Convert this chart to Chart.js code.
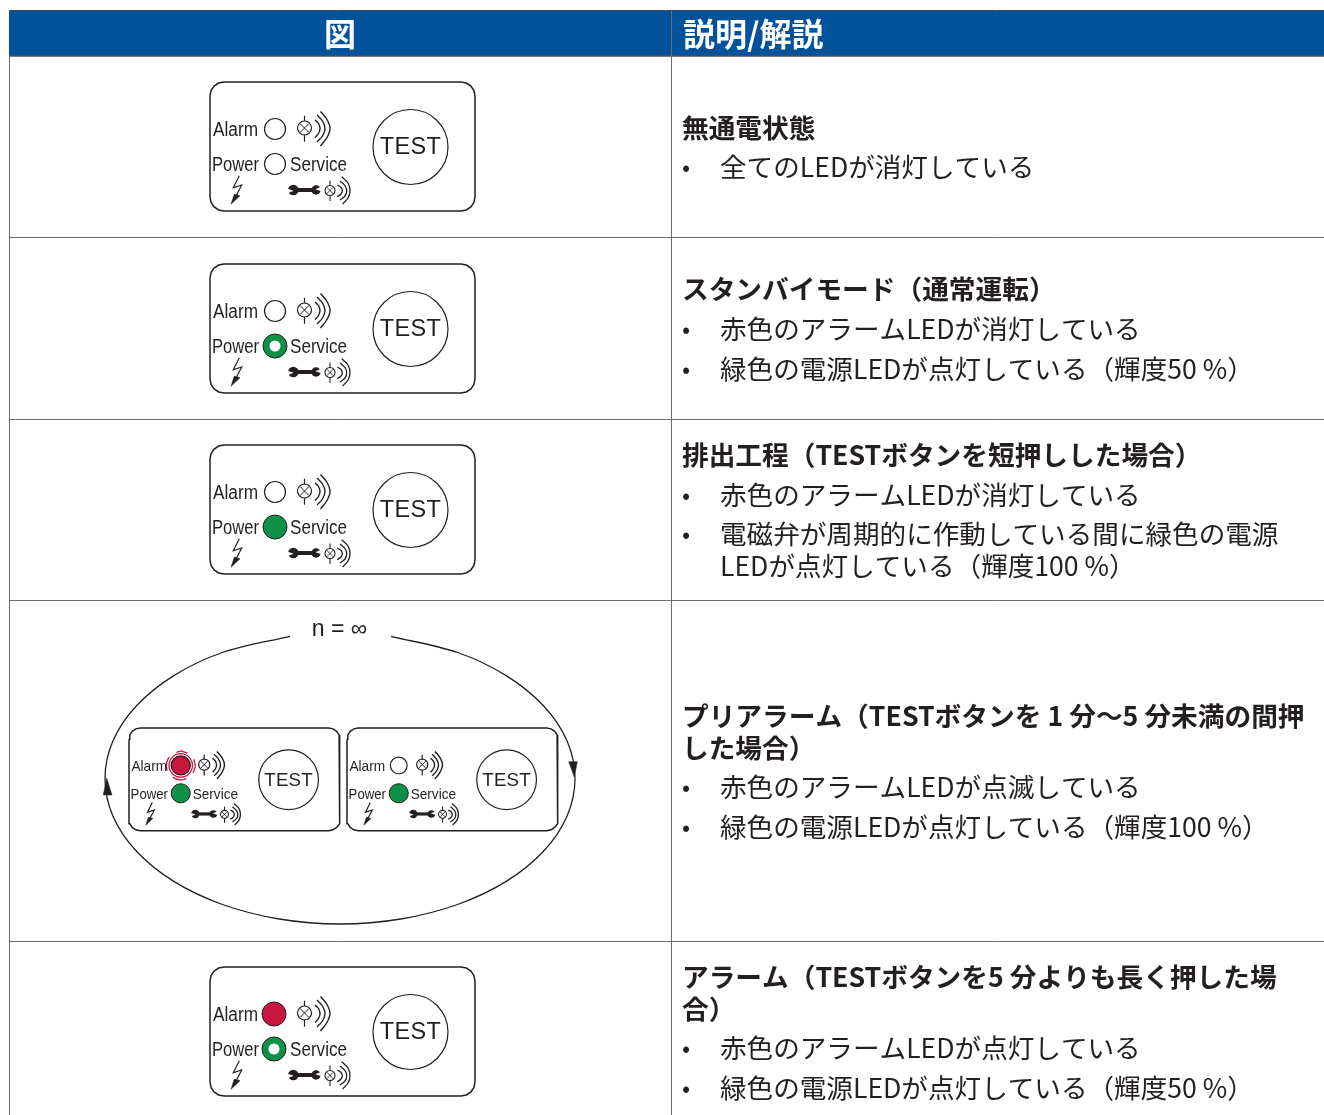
<!DOCTYPE html>
<html lang="ja">
<head>
<meta charset="UTF-8">
<title>LED表示</title>
<script src="https://cdn.jsdelivr.net/npm/chart.js"></script>
<style>
    html, body { margin: 0; padding: 0; background: #fff; overflow: hidden; }
    canvas { display: block; }
</style>
</head>
<body>
<canvas id="tableChart" width="1324" height="1115"></canvas>
<script>
    // Table content
    const tableHeaders = ['図', '説明/解説'];
    const rowHeadings = [
        ['無通電状態'],
        ['スタンバイモード（通常運転）'],
        ['排出工程（TESTボタンを短押しした場合）'],
        ['プリアラーム（TESTボタンを 1 分～5 分未満の間押', 'した場合）'],
        ['アラーム（TESTボタンを5 分よりも長く押した場', '合）']
    ];
    const rowBullets = [
        [['全てのLEDが消灯している']],
        [['赤色のアラームLEDが消灯している'], ['緑色の電源LEDが点灯している（輝度50 %）']],
        [['赤色のアラームLEDが消灯している'], ['電磁弁が周期的に作動している間に緑色の電源', 'LEDが点灯している（輝度100 %）']],
        [['赤色のアラームLEDが点滅している'], ['緑色の電源LEDが点灯している（輝度100 %）']],
        [['赤色のアラームLEDが点灯している'], ['緑色の電源LEDが点灯している（輝度50 %）']]
    ];
    const panelLabels = ['Alarm', 'Power', 'Service', 'TEST'];
    const cycleLabel = 'n = ∞';

    // LED state of each panel: off, dim (50 %), on, blink
    const alarmStates = ['off', 'off', 'off', 'blink', 'off', 'on'];
    const powerStates = ['off', 'dim', 'on', 'on', 'on', 'dim'];

    // Layout
    const rowLines = [237.5, 419.5, 600.5, 941.5];
    const headingY = [128, 289, 455, 716, 977];
    const bulletY = [[167], [329, 369], [495, 534], [787, 827], [1048, 1088]];
    const panelX = [210, 210, 210, 129, 347, 210];
    const panelY = [82, 264, 445, 728, 728, 967];
    const panelScale = [1, 1, 1, 0.796, 0.796, 1];

    // Panel artwork, local to the panel's top left corner
    const panelW = 265, panelH = 129, panelR = 14;
    const cornerSteps = [[0, 1], [0.076, 0.617], [0.293, 0.293], [0.617, 0.076], [1, 0]];
    const bigLamp = [94.5, 46], smallLamp = [120, 108.5];
    const bigWaves = [
        [[105, 38], [108.5, 41.5], [110, 46.5], [108.5, 51.5], [105, 55.5]],
        [[107, 33], [112.5, 39], [115, 46.5], [112.5, 54], [107, 60]],
        [[110.5, 29.5], [117, 37.5], [120, 46.5], [117, 55.5], [110.5, 64]]
    ];
    const smallWaves = [
        [[127.3, 103], [131, 105.5], [132.3, 108.7], [131, 112], [127.3, 114.7]],
        [[130, 99], [135, 103.5], [136.7, 108.7], [135, 114], [130, 118]],
        [[131.7, 94.7], [138, 101], [140, 108.7], [138, 116], [132.7, 122]]
    ];
    const boltLine = [[29.3, 93.7], [23.3, 105.7], [31.7, 103], [25.7, 114.7], [24, 118]];
    const boltHead = [[21, 122.3], [24.3, 112], [30, 113.7]];

    // Cycle ellipse
    const loopX = [290, 222.5, 173.8, 136.5, 113, 105, 113, 136.5, 173.8, 222.5, 279.2, 340, 400.8, 457.5, 506.2, 543.5, 567, 575, 567, 543.5, 506.2, 457.5, 391];
    const loopY = [636.3, 652.5, 675.6, 705.8, 740.8, 778.5, 816.2, 851.3, 881.4, 904.5, 919, 924, 919, 904.5, 881.4, 851.3, 816.2, 778.5, 740.8, 705.8, 675.6, 652.5, 636.3];
    const leftArrow = [[106.7, 778], [103.3, 795], [112, 795]];
    const rightArrow = [[574.3, 777], [568.7, 761.7], [577.3, 761.7]];
    const blinkRing = [[0, -14.5], [10.2, -10.2], [14.5, 0], [10.2, 10.2], [0, 14.5], [-10.2, 10.2], [-14.5, 0], [-10.2, -10.2], [0, -14.5]];

    const INK = '#231f20', GRID = '#6d6d6d', BLUE = '#00529b', GREEN = '#0c9146', RED = '#c8173f';
    const SMOOTH = 0.33;

    const datasets = [];

    function addLine(points, color, width, extra) {
        datasets.push(Object.assign({
            data: points.map(p => ({ x: p[0], y: p[1] })),
            showLine: true, borderColor: color, borderWidth: width,
            pointRadius: 0, fill: false, tension: 0
        }, extra || {}));
    }
    function addDot(x, y, radius, fillColor, edgeColor, edgeWidth) {
        datasets.push({
            data: [{ x: x, y: y }], showLine: false, pointRadius: radius,
            backgroundColor: fillColor, borderColor: edgeColor, borderWidth: edgeWidth
        });
    }
    function addShape(points, color) {
        addLine(points.concat([points[0]]), color, 0.5, { fill: 'shape', backgroundColor: color });
    }

    function addPanel(i) {
        const ox = panelX[i], oy = panelY[i], s = panelScale[i];
        const local = pts => pts.map(p => [ox + p[0] * s, oy + p[1] * s]);

        // rounded outline
        const r = panelR, w = panelW, h = panelH, outline = [];
        cornerSteps.forEach(c => outline.push([c[0] * r, c[1] * r]));
        cornerSteps.slice().reverse().forEach(c => outline.push([w - c[0] * r, c[1] * r]));
        cornerSteps.forEach(c => outline.push([w - c[0] * r, h - c[1] * r]));
        cornerSteps.slice().reverse().forEach(c => outline.push([c[0] * r, h - c[1] * r]));
        outline.push(outline[0]);
        addLine(local(outline), INK, 1.5);

        // test button
        addDot(ox + 200.5 * s, oy + 65 * s, 37.5 * s, '#fff', INK, 1.2);

        // alarm LED
        const ledX = 65, alarmY = 47, powerY = 82;
        if (alarmStates[i] === 'off') {
            addDot(ox + ledX * s, oy + alarmY * s, 10.5 * s, '#fff', INK, 1.2);
        } else if (alarmStates[i] === 'on') {
            addDot(ox + (ledX - 1) * s, oy + alarmY * s, 12 * s, RED, INK, 1);
        } else {
            addLine(blinkRing.map(p => [ox + ledX * s + p[0], oy + alarmY * s + p[1]]), RED, 1.3,
                { tension: SMOOTH, borderDash: [14, 9], borderDashOffset: 7 });
            addDot(ox + ledX * s, oy + alarmY * s, 11.7, '#fff', RED, 1.3);
            addDot(ox + ledX * s, oy + alarmY * s, 9.5, RED, INK, 1.4);
        }

        // power LED
        const powerX = alarmStates[i] === 'on' ? ledX - 1 : ledX;
        if (powerStates[i] === 'off') {
            addDot(ox + powerX * s, oy + powerY * s, 10.5 * s, '#fff', INK, 1.2);
        } else {
            addDot(ox + powerX * s, oy + powerY * s, 12 * s, GREEN, INK, 1);
            if (powerStates[i] === 'dim') addDot(ox + powerX * s, oy + powerY * s, 5.5 * s, '#fff', '#fff', 0);
        }

        // big lamp symbol
        addLine(local([[bigLamp[0], 33.7], [bigLamp[0], 59.7]]), INK, 1.2);
        addDot(ox + bigLamp[0] * s, oy + bigLamp[1] * s, 7 * s, '#fff', INK, 1.2);
        addLine(local([[90, 41.5], [99, 50.5]]), INK, 1);
        addLine(local([[99, 41.5], [90, 50.5]]), INK, 1);
        bigWaves.forEach(a => addLine(local(a), INK, 1.4, { tension: SMOOTH }));

        // wrench
        addLine(local([[84, 108], [106, 108]]), INK, 4 * s);
        addDot(ox + 83.3 * s, oy + 108 * s, 5.3 * s, INK, INK, 0);
        addDot(ox + 106 * s, oy + 108 * s, 4.7 * s, INK, INK, 0);
        addShape(local([[77.5, 107], [83, 108.8], [77.5, 111]]), '#fff');
        addShape(local([[111.5, 105], [106, 107.2], [111.5, 109]]), '#fff');

        // small lamp symbol
        addLine(local([[smallLamp[0], 98.5], [smallLamp[0], 119]]), INK, 1.1);
        addDot(ox + smallLamp[0] * s, oy + smallLamp[1] * s, 5 * s, '#fff', INK, 1.1);
        addLine(local([[116.8, 105.3], [123.2, 111.7]]), INK, 0.9);
        addLine(local([[123.2, 105.3], [116.8, 111.7]]), INK, 0.9);
        smallWaves.forEach(a => addLine(local(a), INK, 1.3, { tension: SMOOTH }));

        // supply bolt
        addLine(local(boltLine), INK, 1.2);
        addShape(local(boltHead), INK);
    }

    // header band and grid
    addLine([[9, 33.5], [1324, 33.5]], BLUE, 45);
    addLine([[9, 10.5], [1324, 10.5]], '#3c4650', 1);
    addLine([[9, 56], [1324, 56]], '#4a4f55', 1.5);
    rowLines.forEach(y => addLine([[9, y], [1324, y]], GRID, 1));
    addLine([[9.5, 56], [9.5, 1115]], GRID, 1);
    addLine([[671.5, 11], [671.5, 1115]], GRID, 1);

    // cycle arrow around the two small panels
    addLine(loopX.map((x, i) => [x, loopY[i]]), INK, 1.3, { tension: SMOOTH });
    addShape(leftArrow, INK);
    addShape(rightArrow, INK);

    panelX.forEach((x, i) => addPanel(i));

    const textPlugin = {
        id: 'tableText',
        afterDatasetsDraw(chart) {
            const c = chart.ctx, sx = chart.scales.x, sy = chart.scales.y;
            const put = (text, x, y, font, color, align, maxW) => {
                c.font = font;
                c.fillStyle = color;
                c.textAlign = align || 'left';
                c.textBaseline = 'middle';
                c.fillText(text, sx.getPixelForValue(x), sy.getPixelForValue(y), maxW);
            };
            const CJK = '"Noto Sans CJK JP"';
            c.save();
            put(tableHeaders[0], 340, 34, 'bold 32px ' + CJK, '#fff', 'center');
            put(tableHeaders[1], 683, 34, 'bold 32px ' + CJK, '#fff');

            rowHeadings.forEach((lines, r) => {
                lines.forEach((t, k) => put(t, 682, headingY[r] + k * 32, 'bold 26.7px ' + CJK, '#231f20'));
            });
            rowBullets.forEach((items, r) => {
                items.forEach((lines, b) => {
                    put('•', 682, bulletY[r][b], '24px ' + CJK, '#231f20');
                    lines.forEach((t, k) => put(t, 720, bulletY[r][b] + k * 32, '26.6px ' + CJK, '#231f20'));
                });
            });

            // panel captions
            panelX.forEach((ox, i) => {
                const s = panelScale[i];
                const label = (text, lx, ly, size, maxW, align) =>
                    put(text, ox + lx * s, panelY[i] + ly * s, (size * s) + 'px "Liberation Sans"', INK, align, maxW * s);
                label(panelLabels[0], 3, 48.5, 19.5, 45);
                label(panelLabels[1], 2, 83.5, 19.5, 47);
                label(panelLabels[2], 80, 83.5, 19.5, 57);
                c.letterSpacing = (0.3 * s) + 'px';
                label(panelLabels[3], 200.5, 66, 23.5, 62, 'center');
                c.letterSpacing = '0px';
            });
            put(cycleLabel, 339.5, 630, '23px "Liberation Sans"', INK, 'center');
            c.restore();
        }
    };

    // chart.js paints the first dataset on top, so hand them over back to front
    datasets.reverse();

    new Chart(document.getElementById('tableChart'), {
        type: 'scatter',
        data: { datasets: datasets },
        plugins: [textPlugin],
        options: {
            responsive: false,
            animation: false,
            layout: { padding: 0, autoPadding: false },
            plugins: { legend: { display: false }, tooltip: { enabled: false } },
            scales: {
                x: { type: 'linear', display: false, min: 0, max: 1324 },
                y: { type: 'linear', display: false, min: 0, max: 1115, reverse: true }
            }
        }
    });
</script>
</body>
</html>
